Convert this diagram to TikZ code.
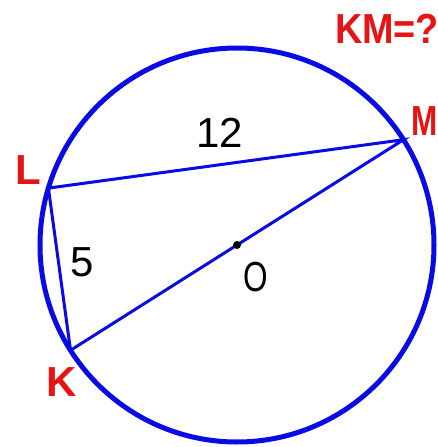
\documentclass[tikz,border=0pt]{standalone}
\usepackage{fontspec}
\setmainfont{Liberation Sans}
\definecolor{cblue}{RGB}{10,10,230}
\definecolor{cred}{RGB}{230,20,20}
\tikzset{
  ptlabel/.style={text=cred, font=\fontsize{42}{42}\selectfont\bfseries, inner sep=0pt},
  numlabel/.style={text=black, font=\fontsize{42}{42}\selectfont, inner sep=0pt},
  chord/.style={draw=cblue, line width=3pt},
}
\begin{document}
\begin{tikzpicture}[x=1pt,y=-1pt]
\useasboundingbox (0,0) rectangle (438,447);
\coordinate (O) at (237,245);
\coordinate (M) at (403.5,139.7);
\coordinate (K) at (70.5,350.3);
\coordinate (L) at (48.4,188.1);
\draw[draw=cblue, line width=5pt] (O) circle[radius=197];
\draw[chord] (L) -- (M) -- (K) -- cycle;
\fill (O) circle[radius=4];
\node[ptlabel, xscale=0.9] (q) at (387,29) {KM=?};
\node[ptlabel, xscale=0.75] (mlab) at (425,121) {M};
\node[ptlabel] (llab) at (28,170) {L};
\node[ptlabel] (klab) at (62,382) {K};
\node[numlabel] (n12) at (220,133) {12};
\node[numlabel] (n5) at (82,262) {5};
\node[numlabel, xscale=0.75] (olab) at (256,277) {O};
\end{tikzpicture}
\end{document}
